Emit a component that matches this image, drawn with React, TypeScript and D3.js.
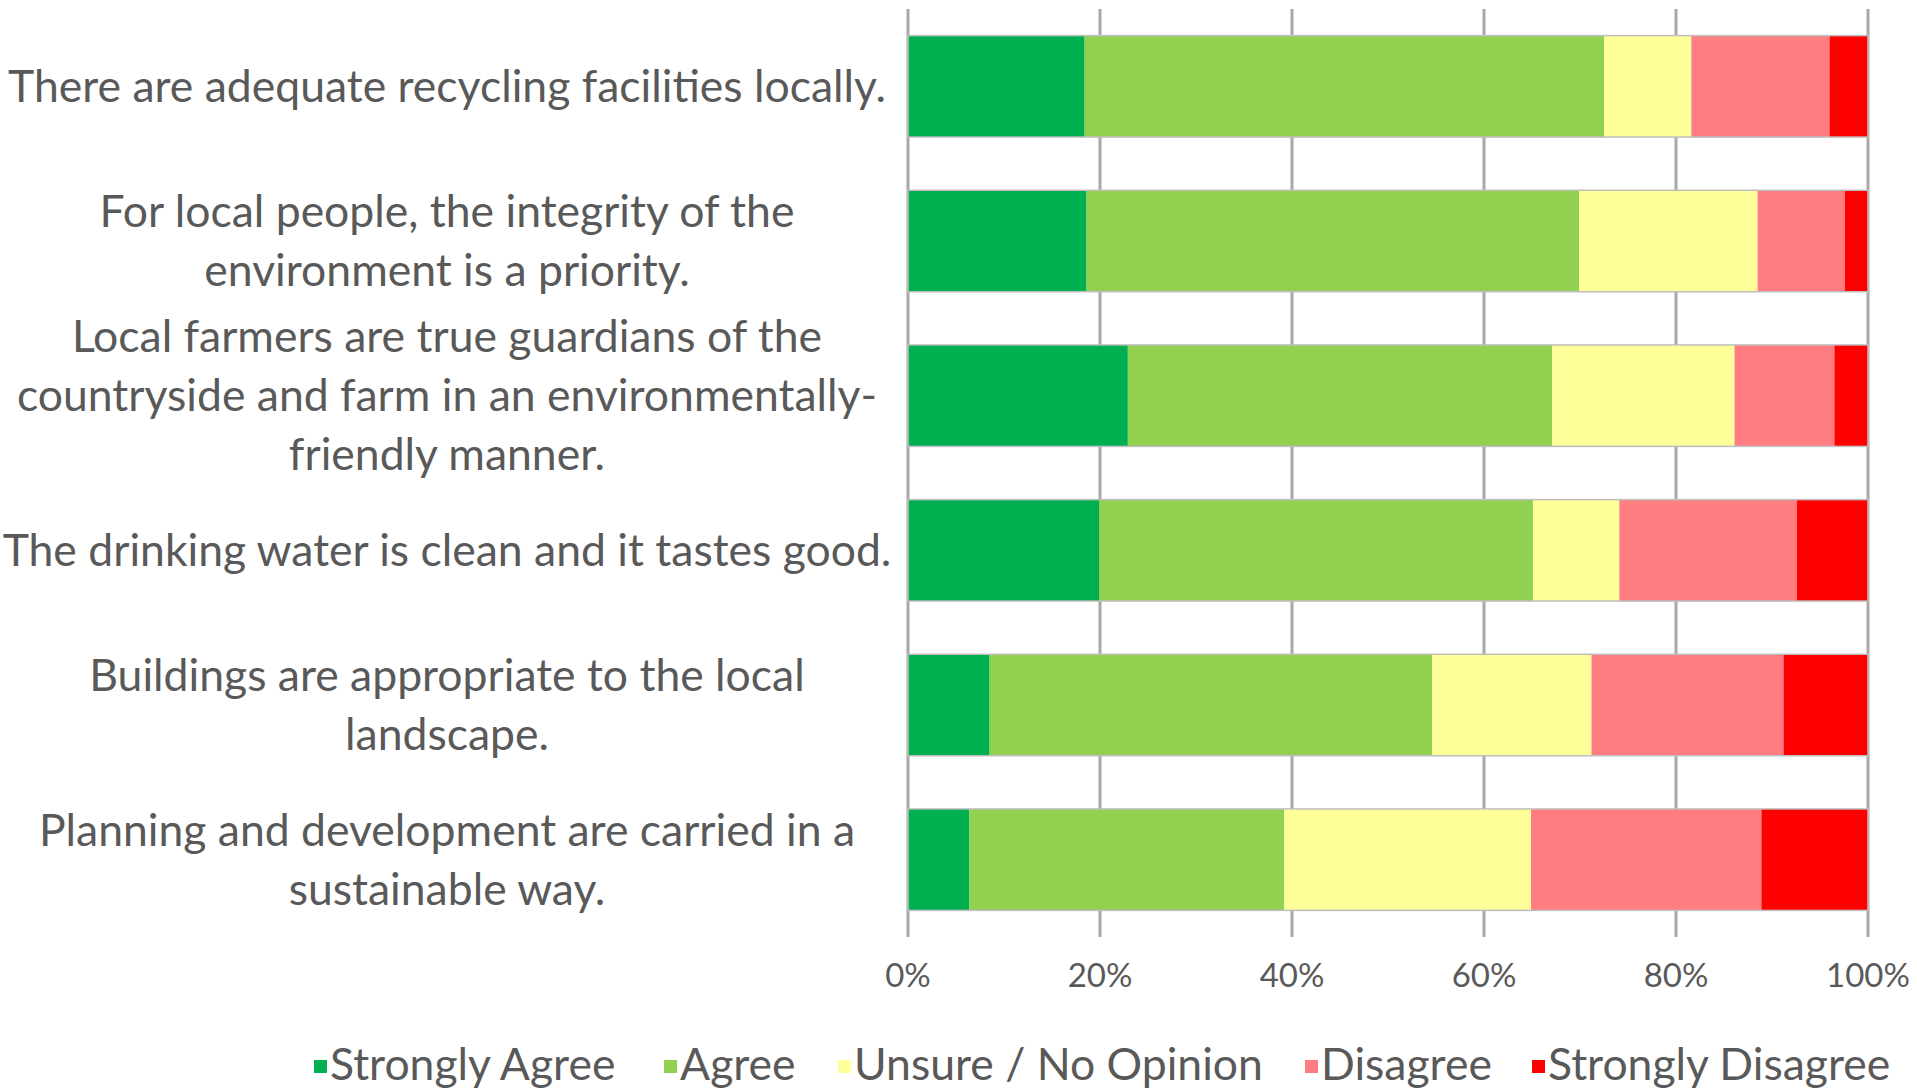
import React from 'react';
import * as d3 from 'd3';

// survey statements, top to bottom, already wrapped like the original
const categories: string[][] = [
  ['There are adequate recycling facilities locally.'],
  ['For local people, the integrity of the', 'environment is a priority.'],
  ['Local farmers are true guardians of the', 'countryside and farm in an environmentally-', 'friendly manner.'],
  ['The drinking water is clean and it tastes good.'],
  ['Buildings are appropriate to the local', 'landscape.'],
  ['Planning and development are carried in a', 'sustainable way.']
];

// percentages per answer, same order as categories
const stronglyAgree = [18.4, 18.6, 22.9, 19.9, 8.5, 6.4];
const agree = [54.1, 51.3, 44.2, 45.2, 46.1, 32.8];
const unsure = [9.1, 18.6, 19.0, 9.0, 16.6, 25.7];
const disagree = [14.4, 9.1, 10.4, 18.5, 20.0, 24.0];
const stronglyDisagree = [4.0, 2.4, 3.5, 7.4, 8.8, 11.1];

const seriesNames = ['Strongly Agree', 'Agree', 'Unsure / No Opinion', 'Disagree', 'Strongly Disagree'];
const seriesColors = ['#00B050', '#92D050', '#FFFF99', '#FF7C80', '#FF0000'];
const tickValues = [0, 20, 40, 60, 80, 100];

const W = 1917;
const H = 1092;
const FONT = 'Lato, "Open Sans", sans-serif';
const TEXT = '#595959';

const App: React.FC = () => {
  const keys = seriesNames;
  const rows = categories.map((c, i) => ({
    id: String(i),
    'Strongly Agree': stronglyAgree[i],
    'Agree': agree[i],
    'Unsure / No Opinion': unsure[i],
    'Disagree': disagree[i],
    'Strongly Disagree': stronglyDisagree[i]
  }));

  const stacked = d3.stack<any>().keys(keys)(rows);

  // 绘图区
  const x = d3.scaleLinear().domain([0, 100]).range([908, 1868]);
  const y = d3.scaleBand<string>()
    .domain(rows.map(r => r.id))
    .range([9, 937])
    .paddingInner(0.344)
    .paddingOuter(0.172);

  const color = d3.scaleOrdinal<string, string>().domain(keys).range(seriesColors);

  const labelX = 447;
  const lineH = 59;

  // legend item positions (marker x, text x)
  const legendX = [320, 670, 844, 1311, 1538];
  const legendY = 1064;

  return (
    <svg
      width={W}
      height={H}
      style={{ position: 'absolute', left: 0, top: 0, background: '#fff' }}
      fontFamily={FONT}
    >
      <rect width={W} height={H} fill="#fff" />

      {/* gridlines */}
      {tickValues.map(t => (
        <line key={'g' + t} x1={x(t)} x2={x(t)} y1={9} y2={937} stroke="#A8A8A8" strokeWidth={3} />
      ))}

      {/* bars */}
      {stacked.map(s => (
        <g key={s.key} fill={color(s.key)}>
          {s.map((d, i) => (
            <rect
              key={i}
              x={x(d[0])}
              y={y(String(i))}
              width={x(d[1]) - x(d[0])}
              height={y.bandwidth()}
            />
          ))}
        </g>
      ))}
      {rows.map(r => (
        <rect key={'o' + r.id} x={x(0)} y={y(r.id)} width={x(100) - x(0)} height={y.bandwidth()}
          fill="none" stroke="#BFBFBF" strokeWidth={1.5} />
      ))}

      {/* category labels */}
      {categories.map((lines, i) => {
        const cy = (y(String(i)) as number) + y.bandwidth() / 2;
        const top = cy - ((lines.length - 1) * lineH) / 2;
        return (
          <text key={'c' + i} textAnchor="middle" fill={TEXT} fontSize={44.5}>
            {lines.map((l, j) => (
              <tspan key={j} x={labelX} y={top + j * lineH} dy="0.35em">{l}</tspan>
            ))}
          </text>
        );
      })}

      {/* x tick labels */}
      {tickValues.map(t => (
        <text key={'t' + t} x={x(t)} y={975} dy="0.35em" textAnchor="middle" fill={TEXT} fontSize={33}>
          {t + '%'}
        </text>
      ))}

      {/* legend */}
      {keys.map((k, i) => (
        <g key={'l' + k}>
          <rect x={legendX[i] - 6} y={legendY - 4} width={13} height={13} fill={color(k)} />
          <text x={legendX[i] + 10} y={legendY} dy="0.35em" fill={TEXT} fontSize={44.5}>{k}</text>
        </g>
      ))}
    </svg>
  );
};

export default App;
